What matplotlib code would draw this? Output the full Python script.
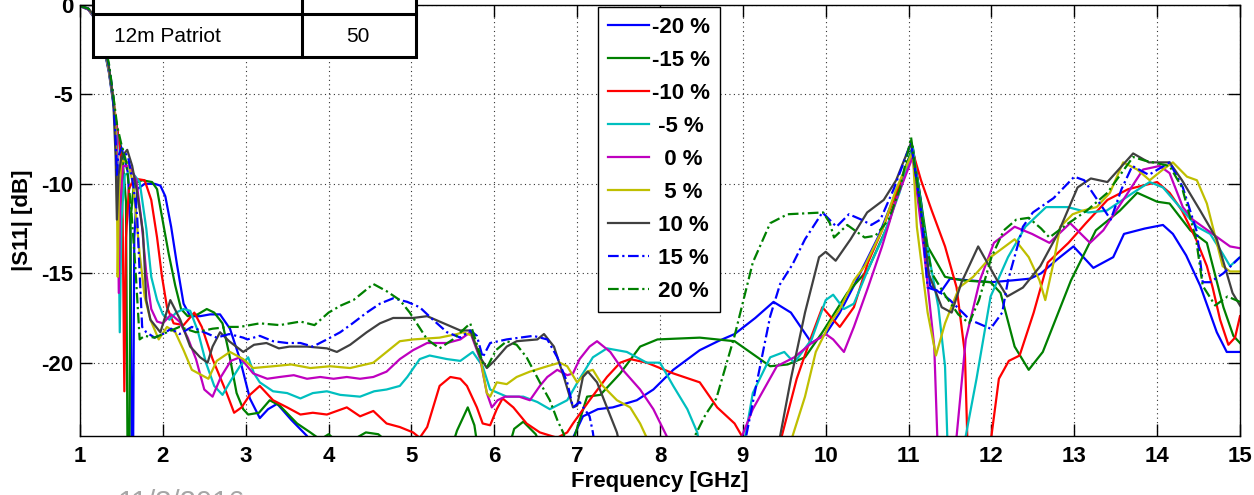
import numpy as np
import matplotlib.pyplot as plt
from matplotlib.patches import Rectangle
from matplotlib.lines import Line2D

plt.rcParams['font.family'] = ['Liberation Sans', 'DejaVu Sans']
plt.rcParams['axes.unicode_minus'] = False

# |S11| traces (frequency GHz, dB) for each dielectric offset
s11_m20 = [(1.00, -0.05), (1.10, -0.25), (1.20, -0.9), (1.28, -2.2), (1.35, -3.8), (1.41, -5.8), (1.46, -7.4),
           (1.52, -8.3), (1.58, -9.4), (1.61, -13.0), (1.625, -26), (1.64, -26), (1.655, -13.0), (1.69, -10.3),
           (1.78, -10.0), (1.90, -10.0), (1.97, -10.1), (2.03, -10.7), (2.10, -12.4), (2.17, -14.5), (2.25, -16.7),
           (2.33, -17.4), (2.45, -17.4), (2.57, -17.3), (2.69, -17.3), (2.81, -18.1), (2.93, -19.8), (3.05, -22.0),
           (3.17, -23.1), (3.27, -22.6), (3.38, -22.3), (3.55, -23.2), (3.74, -24.1), (3.85, -26), (6.90, -26),
           (6.96, -24.1), (7.07, -23.0), (7.25, -22.6), (7.43, -22.5), (7.72, -22.1), (7.92, -21.5), (8.16, -20.4),
           (8.48, -19.3), (8.70, -18.8), (8.90, -18.4), (9.15, -17.5), (9.37, -16.6), (9.58, -17.2), (9.83, -18.9),
           (10.00, -18.4), (10.17, -17.2), (10.34, -15.7), (10.63, -13.0), (10.89, -10.0), (11.05, -8.0),
           (11.15, -11.0), (11.26, -15.7), (11.38, -16.1), (11.50, -15.3), (11.74, -15.4), (12.00, -15.5),
           (12.25, -15.4), (12.47, -15.3), (12.60, -15.0), (12.80, -14.2), (12.99, -13.5), (13.23, -14.7),
           (13.47, -14.1), (13.60, -12.8), (13.85, -12.5), (14.07, -12.3), (14.19, -12.8), (14.35, -14.0),
           (14.52, -15.7), (14.72, -18.3), (14.84, -19.4), (15.00, -19.4)]

s11_m15 = [(1.00, -0.05), (1.10, -0.25), (1.20, -0.85), (1.28, -2.1), (1.35, -3.7), (1.41, -5.7), (1.46, -7.3),
           (1.51, -8.4), (1.555, -11.0), (1.575, -26), (1.595, -26), (1.61, -12.0), (1.65, -10.0), (1.75, -9.8),
           (1.87, -9.9), (1.93, -10.3), (1.98, -11.6), (2.07, -13.9), (2.15, -15.7), (2.22, -17.0), (2.30, -17.4),
           (2.42, -17.3), (2.53, -17.0), (2.62, -17.2), (2.72, -17.8), (2.80, -19.5), (2.89, -21.7), (2.97, -22.6),
           (3.03, -22.9), (3.16, -22.8), (3.29, -22.1), (3.41, -22.4), (3.62, -23.4), (3.78, -23.9), (3.90, -24.3),
           (4.00, -24.0), (4.10, -24.4), (4.30, -24.3), (4.45, -23.9), (4.60, -24.0), (4.75, -24.6), (5.40, -26),
           (5.55, -23.8), (5.68, -22.5), (5.76, -23.5), (5.84, -26), (6.10, -26), (6.24, -23.7), (6.35, -23.3),
           (6.50, -24.0), (6.70, -26), (6.93, -26), (6.97, -24.1), (7.12, -21.9), (7.28, -21.8), (7.52, -20.6),
           (7.76, -19.1), (7.97, -18.7), (8.48, -18.6), (8.90, -18.8), (9.33, -20.2), (9.54, -20.1), (9.75, -19.7),
           (9.96, -18.3), (10.26, -16.1), (10.51, -14.8), (10.76, -12.2), (10.89, -10.2), (11.05, -7.9),
           (11.23, -13.5), (11.44, -15.2), (11.65, -15.4), (11.99, -15.5), (12.11, -16.1), (12.28, -19.1),
           (12.45, -20.4), (12.62, -19.4), (12.96, -15.4), (13.26, -12.6), (13.55, -11.5), (13.76, -10.5),
           (14.00, -11.0), (14.15, -11.1), (14.40, -12.6), (14.60, -13.3), (14.80, -16.9), (14.92, -18.5),
           (15.00, -18.9)]

s11_m10 = [(1.00, -0.05), (1.10, -0.25), (1.20, -0.85), (1.28, -2.1), (1.35, -3.7), (1.41, -5.6), (1.46, -7.3),
           (1.49, -8.3), (1.515, -12.0), (1.535, -21.6), (1.555, -13.0), (1.59, -10.3), (1.65, -9.7), (1.78, -9.8),
           (1.86, -10.9), (1.93, -13.0), (1.99, -15.2), (2.05, -16.9), (2.13, -17.8), (2.25, -17.9), (2.38, -17.2),
           (2.47, -18.0), (2.60, -19.8), (2.77, -21.7), (2.86, -22.8), (2.95, -22.5), (3.05, -21.8), (3.17, -21.3),
           (3.33, -22.1), (3.50, -22.5), (3.66, -22.9), (3.81, -22.8), (3.98, -22.9), (4.22, -22.5), (4.38, -23.0),
           (4.54, -22.7), (4.70, -23.4), (4.86, -23.6), (5.02, -23.9), (5.10, -24.2), (5.19, -23.6), (5.34, -21.3),
           (5.47, -20.8), (5.59, -20.9), (5.67, -21.3), (5.79, -22.5), (5.86, -23.4), (5.95, -23.5), (6.03, -22.6),
           (6.10, -22.0), (6.23, -22.5), (6.39, -23.4), (6.55, -23.9), (6.76, -24.2), (6.88, -23.9), (6.95, -23.4),
           (7.15, -22.1), (7.36, -20.8), (7.52, -20.0), (7.64, -19.8), (7.84, -20.0), (8.16, -20.6), (8.48, -21.1),
           (8.69, -22.5), (8.90, -23.4), (9.00, -24.2), (9.10, -26), (9.40, -26), (9.47, -24.1), (9.65, -20.9),
           (9.83, -18.5), (9.96, -16.9), (10.09, -17.6), (10.17, -18.0), (10.34, -16.9), (10.51, -14.4),
           (10.68, -12.6), (10.85, -10.5), (11.05, -8.2), (11.15, -9.8), (11.28, -11.5), (11.44, -13.5),
           (11.58, -15.8), (11.68, -19.5), (11.72, -26), (11.96, -26), (12.00, -24.1), (12.09, -20.9),
           (12.21, -19.9), (12.34, -19.6), (12.51, -17.2), (12.68, -14.4), (12.93, -13.3), (13.14, -12.2),
           (13.40, -10.9), (13.65, -10.3), (14.00, -9.9), (14.15, -10.5), (14.30, -11.5), (14.47, -13.1),
           (14.60, -14.6), (14.67, -15.8), (14.76, -17.6), (14.86, -19.0), (14.94, -18.6), (15.00, -17.4)]

s11_m5 = [(1.00, -0.05), (1.10, -0.25), (1.20, -0.85), (1.28, -2.1), (1.35, -3.7), (1.41, -5.6), (1.45, -7.4),
          (1.465, -12.0), (1.48, -18.3), (1.50, -12.0), (1.54, -9.5), (1.62, -9.3), (1.72, -9.9), (1.80, -12.5),
          (1.86, -15.2), (1.93, -16.5), (2.00, -17.3), (2.08, -17.6), (2.16, -17.2), (2.25, -17.0), (2.33, -17.1),
          (2.42, -18.2), (2.52, -20.0), (2.62, -21.3), (2.72, -21.8), (2.82, -21.0), (2.93, -20.2), (3.03, -19.7),
          (3.10, -20.6), (3.17, -21.1), (3.33, -21.6), (3.50, -21.7), (3.66, -22.0), (3.81, -21.7), (3.98, -21.6),
          (4.14, -21.8), (4.38, -21.9), (4.55, -21.6), (4.70, -21.5), (4.86, -21.3), (4.95, -20.8), (5.10, -19.8),
          (5.22, -19.6), (5.43, -19.8), (5.59, -19.9), (5.74, -19.4), (5.86, -20.2), (5.95, -21.5), (6.15, -21.9),
          (6.35, -21.9), (6.52, -22.2), (6.67, -22.6), (6.88, -22.1), (7.03, -20.9), (7.19, -19.7), (7.36, -19.2),
          (7.60, -19.4), (7.84, -20.0), (8.00, -20.0), (8.16, -21.3), (8.33, -22.6), (8.45, -23.9), (8.52, -26),
          (8.95, -26), (9.03, -24.1), (9.12, -21.7), (9.33, -19.7), (9.50, -19.4), (9.62, -20.0), (9.83, -18.7),
          (10.00, -16.5), (10.09, -16.2), (10.22, -17.0), (10.34, -16.7), (10.51, -14.8), (10.68, -13.1),
          (10.89, -10.5), (11.05, -8.0), (11.19, -12.6), (11.36, -16.9), (11.44, -20.2), (11.48, -26), (11.66, -26),
          (11.69, -24.1), (11.82, -20.9), (11.99, -16.3), (12.20, -14.1), (12.41, -12.4), (12.66, -11.3),
          (12.92, -11.3), (13.17, -11.6), (13.39, -11.5), (13.71, -10.5), (13.91, -9.9), (14.07, -10.2),
          (14.31, -11.5), (14.48, -12.4), (14.64, -12.8), (14.79, -13.9), (14.88, -14.6), (15.00, -14.1)]

s11_0 = [(1.00, -0.05), (1.10, -0.25), (1.20, -0.8), (1.28, -2.0), (1.35, -3.6), (1.41, -5.5), (1.44, -7.0),
         (1.455, -10.0), (1.468, -16.1), (1.485, -11.0), (1.52, -9.0), (1.60, -9.0), (1.68, -9.8), (1.74, -12.0),
         (1.80, -15.0), (1.86, -17.0), (1.93, -17.7), (2.00, -17.8), (2.10, -17.3), (2.20, -17.7), (2.30, -18.6),
         (2.40, -19.8), (2.50, -21.5), (2.60, -21.9), (2.70, -20.8), (2.82, -19.9), (2.93, -19.7), (3.09, -20.6),
         (3.26, -20.9), (3.41, -20.8), (3.58, -20.7), (3.74, -20.9), (3.90, -20.8), (4.06, -20.9), (4.22, -20.8),
         (4.38, -20.9), (4.54, -20.8), (4.70, -20.5), (4.86, -19.8), (5.02, -19.3), (5.19, -18.9), (5.43, -18.9),
         (5.59, -18.7), (5.71, -18.3), (5.83, -19.8), (5.91, -21.7), (5.97, -22.5), (6.04, -22.1), (6.13, -21.9),
         (6.30, -21.9), (6.43, -22.1), (6.55, -21.3), (6.64, -20.8), (6.76, -20.4), (6.88, -20.7), (6.95, -20.6),
         (7.03, -19.8), (7.15, -19.1), (7.24, -18.8), (7.40, -19.4), (7.55, -20.4), (7.76, -21.5), (7.92, -22.6),
         (8.08, -24.1), (8.20, -26), (8.90, -26), (8.99, -24.1), (9.12, -22.6), (9.41, -20.2), (9.62, -19.7),
         (9.83, -18.9), (10.00, -18.4), (10.09, -18.7), (10.22, -19.4), (10.34, -18.0), (10.51, -15.8),
         (10.68, -13.5), (10.85, -10.9), (11.05, -8.5), (11.18, -13.5), (11.31, -19.1), (11.36, -26), (11.55, -26),
         (11.58, -24.1), (11.69, -18.7), (11.86, -15.4), (12.03, -13.3), (12.28, -12.4), (12.49, -12.8),
         (12.70, -13.3), (12.95, -12.2), (13.19, -13.3), (13.35, -12.6), (13.59, -10.9), (13.83, -9.2),
         (14.03, -9.0), (14.15, -9.4), (14.31, -11.3), (14.43, -12.0), (14.64, -12.7), (14.88, -13.5),
         (15.00, -13.6)]

s11_p5 = [(1.00, -0.05), (1.10, -0.2), (1.20, -0.8), (1.28, -2.0), (1.35, -3.6), (1.41, -5.4), (1.43, -7.0),
          (1.445, -10.0), (1.455, -15.2), (1.47, -10.5), (1.50, -8.7), (1.58, -8.8), (1.64, -10.0), (1.72, -13.9),
          (1.78, -16.3), (1.85, -17.6), (1.95, -18.7), (2.05, -18.0), (2.15, -18.3), (2.25, -19.3), (2.35, -20.4),
          (2.55, -20.9), (2.65, -19.9), (2.81, -19.4), (2.97, -19.8), (3.09, -20.3), (3.33, -20.2), (3.55, -20.1),
          (3.78, -20.3), (4.02, -20.2), (4.26, -20.3), (4.54, -20.0), (4.70, -19.4), (4.86, -18.8), (5.02, -18.7),
          (5.34, -18.6), (5.55, -18.4), (5.62, -18.3), (5.74, -18.5), (5.83, -19.7), (5.91, -21.7), (5.95, -21.9),
          (6.03, -21.1), (6.15, -21.2), (6.27, -20.8), (6.43, -20.5), (6.64, -20.2), (6.79, -20.0), (6.88, -20.2),
          (7.00, -21.1), (7.12, -20.5), (7.19, -20.4), (7.31, -21.3), (7.48, -22.1), (7.64, -22.5), (7.76, -23.4),
          (7.84, -24.2), (7.95, -26), (9.50, -26), (9.60, -24.1), (9.75, -21.9), (9.88, -19.4), (10.05, -17.8),
          (10.17, -17.0), (10.34, -15.4), (10.47, -14.6), (10.68, -12.6), (10.85, -10.3), (11.05, -8.2),
          (11.10, -12.4), (11.23, -17.2), (11.33, -19.6), (11.44, -17.8), (11.61, -15.8), (11.78, -15.2),
          (11.99, -14.1), (12.28, -13.1), (12.45, -14.1), (12.58, -15.4), (12.65, -16.5), (12.75, -14.4),
          (12.83, -12.4), (12.98, -11.7), (13.10, -11.5), (13.27, -11.3), (13.43, -10.5), (13.59, -8.8),
          (13.76, -9.2), (13.91, -9.8), (14.07, -9.2), (14.19, -8.8), (14.36, -9.6), (14.48, -9.8), (14.60, -11.1),
          (14.72, -13.3), (14.79, -14.6), (14.88, -14.9), (15.00, -14.9)]

s11_p10 = [(1.00, -0.05), (1.10, -0.2), (1.20, -0.75), (1.28, -1.9), (1.35, -3.5), (1.40, -5.2), (1.43, -8.5),
           (1.445, -12.0), (1.465, -9.5), (1.50, -8.5), (1.57, -8.1), (1.63, -9.0), (1.69, -10.5), (1.76, -12.7),
           (1.80, -16.5), (1.85, -17.6), (1.97, -18.3), (2.09, -16.5), (2.21, -17.6), (2.33, -19.1), (2.45, -19.7),
           (2.54, -20.0), (2.60, -19.1), (2.69, -18.3), (2.80, -18.8), (2.97, -19.4), (3.10, -19.0), (3.25, -18.9),
           (3.40, -19.2), (3.53, -19.1), (3.74, -19.1), (3.98, -19.2), (4.10, -19.4), (4.26, -19.0), (4.46, -18.3),
           (4.62, -17.8), (4.78, -17.5), (5.02, -17.5), (5.19, -17.4), (5.34, -17.7), (5.59, -18.2), (5.71, -18.2),
           (5.83, -19.7), (5.91, -20.3), (6.00, -19.9), (6.15, -19.1), (6.27, -18.8), (6.52, -18.7), (6.60, -18.4),
           (6.72, -19.1), (6.84, -20.8), (6.95, -22.5), (7.00, -22.4), (7.07, -20.8), (7.13, -20.5), (7.24, -21.1),
           (7.36, -22.5), (7.48, -23.9), (7.58, -26), (9.35, -26), (9.45, -24.1), (9.58, -20.9), (9.75, -17.2),
           (9.92, -14.1), (10.00, -13.8), (10.12, -14.3), (10.30, -13.1), (10.50, -11.6), (10.70, -10.9),
           (10.85, -9.8), (11.03, -7.7), (11.15, -11.5), (11.24, -15.0), (11.40, -16.9), (11.52, -17.2),
           (11.64, -15.5), (11.84, -13.5), (12.07, -15.4), (12.19, -16.3), (12.38, -15.8), (12.59, -14.6),
           (12.80, -12.8), (13.04, -10.2), (13.20, -9.7), (13.40, -9.9), (13.71, -8.3), (13.90, -8.8),
           (14.15, -8.8), (14.30, -9.8), (14.52, -11.5), (14.72, -13.1), (14.91, -16.1), (15.00, -16.8)]

s11_p15 = [(1.00, -0.05), (1.10, -0.2), (1.20, -0.75), (1.28, -1.9), (1.35, -3.4), (1.40, -5.0), (1.43, -7.5),
           (1.445, -9.5), (1.46, -8.5), (1.50, -8.0), (1.58, -8.5), (1.64, -10.0), (1.69, -11.8), (1.72, -15.0),
           (1.75, -18.0), (1.80, -18.3), (1.90, -18.6), (2.00, -18.4), (2.10, -18.1), (2.20, -18.4), (2.35, -18.0),
           (2.50, -18.3), (2.65, -18.6), (2.80, -18.4), (2.97, -18.6), (3.02, -18.7), (3.17, -18.5), (3.33, -18.8),
           (3.50, -18.9), (3.66, -18.9), (3.81, -19.1), (3.98, -18.7), (4.14, -18.3), (4.29, -17.8), (4.46, -17.2),
           (4.62, -16.7), (4.78, -16.4), (4.95, -16.6), (5.10, -16.9), (5.26, -17.6), (5.43, -18.3), (5.59, -18.6),
           (5.71, -18.2), (5.79, -18.5), (5.86, -19.7), (5.95, -18.9), (6.15, -18.7), (6.47, -18.5), (6.64, -18.7),
           (6.76, -19.7), (6.88, -21.1), (6.95, -22.5), (7.03, -22.2), (7.15, -23.0), (7.19, -23.9), (7.25, -26),
           (9.00, -26), (9.04, -24.1), (9.16, -21.3), (9.33, -17.4), (9.45, -15.6), (9.60, -14.5), (9.75, -13.1),
           (9.96, -11.6), (10.13, -12.4), (10.28, -11.7), (10.43, -12.0), (10.55, -12.3), (10.66, -12.0),
           (10.82, -10.3), (11.03, -7.7), (11.15, -11.5), (11.23, -15.8), (11.36, -16.0), (11.50, -16.5),
           (11.74, -17.6), (11.99, -18.1), (12.13, -17.2), (12.20, -15.4), (12.38, -12.4), (12.50, -11.6),
           (12.75, -10.8), (13.00, -9.6), (13.12, -9.8), (13.25, -10.7), (13.44, -12.0), (13.57, -10.3),
           (13.70, -9.0), (13.90, -9.5), (14.15, -8.8), (14.31, -10.2), (14.48, -12.7), (14.55, -15.5),
           (14.64, -15.5), (14.80, -15.0), (15.00, -14.1)]

s11_p20 = [(1.00, -0.05), (1.10, -0.2), (1.20, -0.7), (1.28, -1.8), (1.35, -3.3), (1.40, -5.0), (1.45, -6.8),
           (1.50, -7.8), (1.56, -8.8), (1.62, -11.5), (1.67, -14.8), (1.72, -18.7), (1.78, -18.5), (1.90, -18.6),
           (2.05, -18.3), (2.20, -18.0), (2.40, -18.3), (2.60, -18.1), (2.80, -18.0), (2.93, -18.0), (3.17, -17.8),
           (3.41, -17.9), (3.66, -17.7), (3.83, -17.9), (4.00, -17.2), (4.15, -16.8), (4.30, -16.5), (4.54, -15.6),
           (4.70, -16.0), (4.86, -16.5), (4.98, -17.2), (5.19, -18.7), (5.34, -19.2), (5.50, -18.7), (5.71, -17.8),
           (5.86, -20.0), (5.92, -20.2), (6.02, -19.3), (6.15, -18.8), (6.27, -19.0), (6.39, -19.7), (6.55, -21.1),
           (6.67, -22.1), (6.76, -23.2), (6.84, -24.0), (6.90, -26), (8.30, -26), (8.42, -24.1), (8.55, -22.9),
           (8.68, -22.0), (8.90, -18.5), (9.12, -14.4), (9.33, -12.2), (9.54, -11.7), (9.97, -11.6), (10.05, -12.2),
           (10.10, -13.0), (10.26, -12.3), (10.47, -13.0), (10.60, -12.9), (10.76, -12.0), (10.90, -10.2),
           (11.03, -7.4), (11.15, -11.5), (11.28, -15.0), (11.45, -16.3), (11.60, -17.3), (11.73, -17.8),
           (11.85, -16.5), (12.00, -14.1), (12.15, -12.6), (12.30, -12.0), (12.45, -11.9), (12.60, -12.5),
           (12.70, -13.0), (12.90, -12.3), (13.15, -11.5), (13.40, -10.5), (13.60, -9.2), (13.71, -8.5),
           (13.85, -8.7), (14.15, -9.0), (14.30, -10.2), (14.47, -13.1), (14.55, -15.7), (14.70, -16.8),
           (14.85, -16.3), (15.00, -16.6)]

labels = ['-20 %', '-15 %', '-10 %', ' -5 %', '  0 %', '  5 %', ' 10 %', ' 15 %', ' 20 %']
traces = [s11_m20, s11_m15, s11_m10, s11_m5, s11_0, s11_p5, s11_p10, s11_p15, s11_p20]
colors = ['#0000ff', '#008000', '#ff0000', '#00bfbf', '#bf00bf', '#bfbf00', '#404040', '#0000ff', '#008000']
dashdot = (0, (4.8, 1.6, 1.0, 1.6))
styles = ['-', '-', '-', '-', '-', '-', '-', dashdot, dashdot]

W, H = 1254, 495
fig = plt.figure(figsize=(W / 100, H / 100), dpi=100)
ax = fig.add_axes([80 / W, (H - 436) / H, 1160 / W, 431 / H])

for pts, lab, c, ls in zip(traces, labels, colors, styles):
    d = np.array(pts)
    ax.plot(d[:, 0], d[:, 1], color=c, ls=ls, lw=1.6, label=lab)

ax.set_xlim(1, 15)
ax.set_ylim(-24.1, 0)
ax.set_xticks(range(1, 16))
ax.set_yticks([-20, -15, -10, -5, 0])
ax.grid(True, color='#333333', ls=(0, (1, 3)), lw=0.8)
ax.tick_params(direction='in', length=8.5, width=1, top=True, right=True, labelsize=16)
ax.tick_params(axis='x', pad=7)
ax.tick_params(axis='y', pad=5)
for t in ax.get_xticklabels() + ax.get_yticklabels():
    t.set_fontweight('bold')
for sp in ax.spines.values():
    sp.set_linewidth(1.0)
ax.set_xlabel('Frequency [GHz]', fontsize=16, fontweight='bold', labelpad=3)
ax.set_ylabel('|S11| [dB]', fontsize=16, fontweight='bold', labelpad=6)

leg = ax.legend(loc='upper left', bbox_to_anchor=(598 / W, (H - 7) / H), bbox_transform=fig.transFigure,
                prop={'weight': 'bold', 'size': 16}, fancybox=False, framealpha=1, edgecolor='k',
                borderaxespad=0, borderpad=0.45, labelspacing=0.54, handlelength=1.85, handletextpad=0.15)
leg.get_frame().set_linewidth(1.0)

# antenna table overlay in the top-left corner
def fx(px):
    return px / W

def fy(py):
    return (H - py) / H

tab = Rectangle((fx(93), fy(57)), fx(416) - fx(93), 0.2, transform=fig.transFigure,
                facecolor='white', edgecolor='k', lw=2.2, zorder=5)
fig.add_artist(tab)
fig.add_artist(Line2D([fx(93), fx(416)], [fy(14), fy(14)], transform=fig.transFigure, color='k', lw=2.2, zorder=6))
fig.add_artist(Line2D([fx(302), fx(302)], [fy(57), 1.0], transform=fig.transFigure, color='k', lw=2.2, zorder=6))
fig.text(fx(114), fy(36), '12m Patriot', fontsize=15, va='center', ha='left', zorder=7)
fig.text(fx(358), fy(36), '50', fontsize=15, va='center', ha='center', zorder=7)

fig.text(fx(118), fy(489), '11/3/2016', fontsize=21, color='#a6a6a6', va='top', ha='left')

fig.savefig('out.png', dpi=100)
